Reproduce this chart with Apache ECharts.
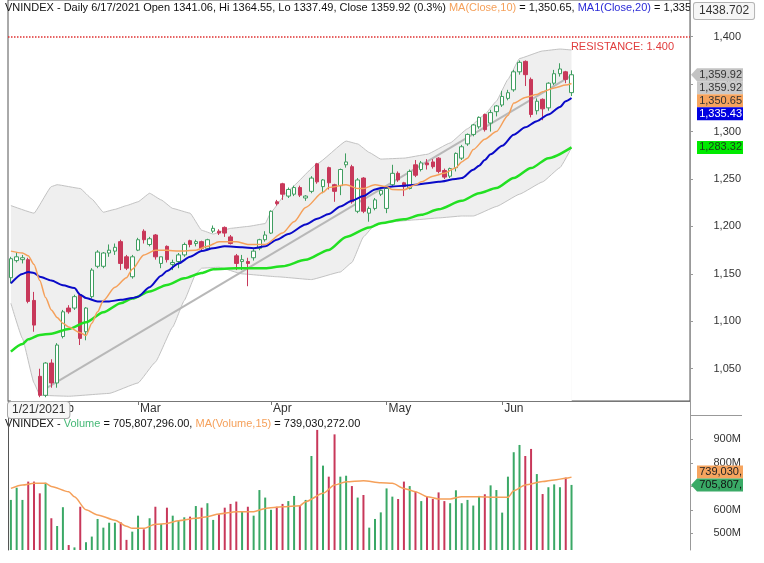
<!DOCTYPE html>
<html><head><meta charset="utf-8">
<script src="https://cdn.jsdelivr.net/npm/echarts@6/dist/echarts.min.js"></script>
<style>html,body{margin:0;padding:0;background:#fff}#c{width:764px;height:563px}</style>
</head><body><div id="c"></div>
<script>
// ---------- DATA ----------
const dates = [
 '1/21/2021','1/22/2021','1/25/2021','1/26/2021','1/27/2021','1/28/2021','1/29/2021',
 '2/1/2021','2/2/2021','2/3/2021','2/4/2021','2/5/2021','2/8/2021','2/9/2021','2/17/2021','2/18/2021','2/19/2021','2/22/2021','2/23/2021','2/24/2021','2/25/2021','2/26/2021',
 '3/1/2021','3/2/2021','3/3/2021','3/4/2021','3/5/2021','3/8/2021','3/9/2021','3/10/2021','3/11/2021','3/12/2021','3/15/2021','3/16/2021','3/17/2021','3/18/2021','3/19/2021','3/22/2021','3/23/2021','3/24/2021','3/25/2021','3/26/2021','3/29/2021','3/30/2021','3/31/2021',
 '4/1/2021','4/2/2021','4/5/2021','4/6/2021','4/7/2021','4/8/2021','4/9/2021','4/12/2021','4/13/2021','4/14/2021','4/15/2021','4/16/2021','4/19/2021','4/20/2021','4/22/2021','4/23/2021','4/26/2021','4/27/2021','4/28/2021','4/29/2021',
 '5/4/2021','5/5/2021','5/6/2021','5/7/2021','5/10/2021','5/11/2021','5/12/2021','5/13/2021','5/14/2021','5/17/2021','5/18/2021','5/19/2021','5/20/2021','5/21/2021','5/24/2021','5/25/2021','5/26/2021','5/27/2021','5/28/2021','5/31/2021',
 '6/1/2021','6/2/2021','6/3/2021','6/4/2021','6/7/2021','6/8/2021','6/9/2021','6/10/2021','6/11/2021','6/14/2021','6/15/2021','6/16/2021','6/17/2021'
];
const opens = [1146,1164,1165,1165,1122,1042,1022,1056,1035,1084,1114,1114,1128,1089,1126,1158,1158,1172,1174,1184,1168,1147,
 1175,1195,1181,1191,1161,1179,1160,1163,1170,1185,1182,1184,1177,1195,1195,1199,1189,1169,1163,1163,1167,1177,1186,
 1193,1226,1245,1232,1234,1241,1230,1237,1266,1242,1262,1244,1243,1265,1263,1216,1251,1214,1219,1234,
 1219,1244,1256,1246,1240,1265,1260,1267,1268,1272,1259,1253,1262,1272,1287,1297,1305,1318,1309,1321,
 1328,1335,1344,1363,1374,1355,1322,1334,1325,1351,1361,1363,1341.06];
const highs = [1168,1173,1170,1167,1131,1050,1057,1060,1077,1112,1117,1128,1130,1115,1156,1175,1173,1181,1182,1186,1170,1170,
 1188,1197,1189,1192,1168,1180,1165,1172,1183,1186,1186,1185,1187,1201,1197,1200,1191,1171,1170,1167,1176,1187,1195,
 1217,1228,1246,1241,1243,1243,1233,1253,1267,1250,1263,1245,1261,1277,1265,1251,1252,1221,1230,1239,
 1242,1265,1258,1247,1260,1270,1269,1271,1271,1273,1261,1262,1278,1286,1298,1308,1316,1319,1323,1328,
 1343,1344,1365,1375,1375,1357,1335,1335,1352,1365,1372,1364,1364.55];
const lows = [1140,1162,1161,1119,1089,1020,1020,1030,1030,1082,1108,1112,1075,1080,1124,1156,1156,1168,1170,1154,1154,1145,
 1174,1182,1179,1165,1156,1162,1154,1156,1168,1178,1179,1175,1175,1193,1191,1189,1181,1154,1154,1137,1164,1175,1184,
 1192,1222,1228,1230,1232,1231,1227,1235,1245,1235,1239,1226,1233,1262,1224,1214,1214,1205,1217,1232,
 1214,1242,1247,1232,1239,1252,1258,1260,1261,1256,1250,1251,1258,1270,1285,1295,1303,1300,1300,1316,
 1326,1333,1342,1360,1348,1315,1318,1312,1322,1349,1358,1351,1337.49];
const closes = [1166,1168,1167,1121,1096,1022,1056,1035,1075,1110,1110,1126,1082,1114,1154,1173,1172,1175,1178,1161,1156,1168,
 1186,1186,1187,1168,1168,1165,1162,1170,1181,1181,1184,1177,1186,1198,1193,1193,1182,1161,1165,1161,1174,1186,1191,
 1216,1224,1234,1239,1241,1233,1232,1251,1247,1249,1246,1237,1260,1268,1226,1249,1216,1219,1228,1238,
 1240,1256,1249,1242,1258,1254,1267,1265,1263,1258,1252,1261,1277,1284,1297,1307,1315,1302,1320,1327,
 1337,1341,1363,1373,1360,1318,1332,1324,1351,1361,1366,1355,1359.92];
// volume, millions of shares
const volumes = [642,694,642,720,720,670,715,564,531,611,450,440,613,462,486,561,524,545,545,547,472,507,
 575,517,564,613,540,609,575,552,568,571,616,609,628,557,581,609,625,635,595,613,575,684,652,
 600,613,625,637,659,616,642,829,940,788,741,921,741,745,701,652,663,524,561,589,
 691,656,646,720,701,677,637,656,646,674,637,628,683,628,642,618,659,666,704,684,
 588,741,845,876,829,859,752,667,696,708,696,737,705.807296];
// overlays: [candle index, value]
const ma10 = [[0,1174],[2,1172],[3,1169],[4,1160],[5,1143],[6,1125],[7,1112],[8,1104],[9,1098],[10,1094],[12,1088],[13,1085],
 [14,1098],[15,1110],[16,1122],[18,1136],[20,1146],[21,1155],[23,1170],[25,1175],[27,1175],[29,1174],[32,1175],[34,1179],
 [36,1184],[39,1184],[41,1181],[44,1181],[47,1193],[49,1205],[51,1220],[54,1236],[55,1241],[58,1244],[60,1240],[61,1240],
 [63,1244],[65,1242],[66,1239],[68,1238.6],[70,1244],[71,1247],[73,1253],[75,1256],[77,1262],[78,1268],[79,1272],[80,1281],
 [82,1292],[84,1300],[86,1317],[87,1330],[89,1336],[91,1339],[92,1342],[94,1346],[96,1349],[97,1350.65]];
const ma20 = [[0,1140],[2,1150],[3,1152],[4,1151],[5,1147],[7,1143],[9,1138],[11,1135],[12,1128],[13,1124.5],[15,1121],[17,1121],
 [19,1122.6],[21,1124.5],[22,1126],[24,1136],[26,1148],[27,1153],[29,1161],[31,1168],[33,1174],[35,1177],[37,1179],[40,1178],
 [42,1177],[44,1179],[46,1186],[48,1192],[51,1202],[53,1208],[55,1213],[57,1221],[59,1227],[61,1232],[63,1239],[64,1240.5],
 [66,1242],[68,1243],[70,1244],[72,1245.6],[74,1247],[77,1250],[78,1251],[80,1259.7],[81,1264],[82,1270],[83,1276],[85,1285],
 [87,1296.7],[89,1304.5],[91,1311],[93,1318],[95,1326],[96,1332],[97,1335.43]];
const maLong = [[0,1068],[2,1076],[3,1081],[5,1085.7],[7,1087],[10,1092],[13,1099],[16,1109.5],[19,1119],[21,1124],[24,1131.4],
 [27,1138.4],[30,1145.4],[33,1151],[35,1155],[39,1156],[44,1156],[47,1158],[51,1164.8],[55,1175.3],[58,1189],[62,1199],
 [64,1203.5],[68,1207.5],[71,1212.3],[74,1218],[78,1227],[81,1235],[84,1240.4],[87,1251],[90,1261.5],[93,1272],[97,1283.32]];
const bbUpper = [[0,1222],[4,1214],[7,1242],[8,1244],[12,1240],[14,1229],[16,1215],[18,1218],[20,1222],[22,1226],[24,1235],
 [26,1228],[28,1219],[31,1214],[33,1196],[35,1192],[38,1198],[41,1200],[44,1203],[45,1215],[48,1238],[53,1266],[58,1290],
 [60,1287],[62,1278],[64,1271],[68,1272],[72,1276],[76,1288],[79,1303],[82,1318],[84,1332],[86,1355],[88,1377],[92,1385],
 [95,1387],[97,1386]];
const bbLower = [[0,1119],[2,1082],[4,1035],[5,1022],[10,1021],[17,1024],[22,1035],[25,1057],[28,1094],[30,1122],[32,1150],
 [33,1156],[36,1157],[40,1150],[46,1147],[52,1144],[57,1152],[59,1162],[61,1189],[63,1202],[66,1205],[70,1207],[74,1209],
 [78,1211],[80,1211],[84,1221],[88,1234],[92,1247],[95,1262],[97,1283]];
const volMa15 = [[0,691],[2,705.5],[4,712.6],[6,712.6],[7,699],[10,677],[11,655],[13,600],[15,578],[18,556],[20,530],[21,521],
 [23,521],[25,538],[27,542],[29,553.7],[32,563.6],[34,570.8],[36,582],[39,592],[42,592],[44,606],[47,613],[50,617.6],
 [51,634.6],[54,670],[56,705.5],[58,719.7],[61,724],[64,715.4],[66,712.6],[68,691],[70,677],[72,656],[74,646],[76,646],
 [78,656],[81,656],[84,653],[86,653],[87,681],[89,705.5],[92,720],[94,727],[96,734],[97,739.030272]];
const trendLine = [[6,1029],[97,1359]];
const resistance = 1400;
const priceTicks = [1050,1100,1150,1200,1250,1300,1350,1400];
const volTicks = [500,600,700,800,900];
const priceMin = 1016, priceMax = 1438.702;
const volMin = 428.9, volMax = 1003.4;

// ---------- LAYOUT ----------
const GL = 8, GR = 690, PT = 0, PB = 401, VT = 415, VB = 550, W = 764, H = 563;
const FONT = '"Liberation Sans", Arial, sans-serif';
const MONTHS = ['Jan','Feb','Mar','Apr','May','Jun','Jul','Aug','Sep','Oct','Nov','Dec'];
const cats = dates.concat(Array.from({length:20},(_,k)=>'pad'+k));
const mon = d => d.split('/')[0];
const monthStart = cats.map((d,i)=> i>0 && i<dates.length && mon(d)!==mon(dates[i-1]));
const fmt = (v,d)=> v.toLocaleString('en-US',{minimumFractionDigits:d,maximumFractionDigits:d});

const upColor = '#3f9e60', downColor = '#c8385a';
const candles = opens.map((o,i)=>[o, closes[i], lows[i], highs[i]]);
const volData = volumes.map((v,i)=>({value:v, itemStyle:{color: closes[i]>=opens[i] ? '#3aa866' : downColor}}));

const chart = echarts.init(document.getElementById('c'));
const lineS = (name, data, color, width, extra) => Object.assign({
  type:'line', name, data, xAxisIndex:0, yAxisIndex:0, symbol:'none', smooth:0.25, smoothMonotone:'x',
  lineStyle:{color, width}, silent:true, z:4
}, extra||{});
const rs = (color) => ({fontSize:11, fontFamily:FONT, fontWeight:'normal', color});

chart.setOption({
  animation:false,
  backgroundColor:'#ffffff',
  title:[
    {left:5, top:2, padding:0, z:8,
     text:'{a|VNINDEX - Daily 6/17/2021 Open 1341.06, Hi 1364.55, Lo 1337.49, Close 1359.92 (0.3%) }{o|MA(Close,10)}{a| = 1,350.65, }{b|MA1(Close,20)}{a| = 1,335.43}',
     textStyle:{fontWeight:'normal', fontSize:11, rich:{a:rs('#111'), o:rs('#f5a05a'), b:rs('#2a2ad6')}}},
    {left:5, top:418, padding:0, z:8,
     text:'{a|VNINDEX - }{g|Volume}{a| = 705,807,296.00, }{o|MA(Volume,15)}{a| = 739,030,272.00}',
     textStyle:{fontWeight:'normal', fontSize:11, rich:{a:rs('#111'), g:rs('#45b876'), o:rs('#f5a05a')}}}
  ],
  grid:[
    {left:GL, right:W-GR, top:PT, bottom:H-PB, show:true, borderColor:'#555', borderWidth:1},
    {left:GL, right:W-GR, top:VT, bottom:H-VB}
  ],
  xAxis:[
    {type:'category', data:cats, gridIndex:0, boundaryGap:true, z:10,
     axisLine:{show:true, lineStyle:{color:'#777'}},
     axisTick:{show:true, alignWithLabel:true, interval:(i)=>monthStart[i], length:4, lineStyle:{color:'#777'}},
     axisLabel:{show:true, interval:(i)=>monthStart[i], formatter:(v)=>MONTHS[+mon(v)-1], align:'left', margin:2,
       padding:[0,0,0,2], color:'#333', fontSize:12, fontFamily:FONT},
     splitLine:{show:false}},
    {type:'category', data:cats, gridIndex:1, boundaryGap:true, show:false}
  ],
  yAxis:[
    {type:'value', gridIndex:0, position:'right', min:priceMin, max:priceMax, z:10,
     axisLine:{show:true, lineStyle:{color:'#999'}},
     axisTick:{show:true, customValues:priceTicks, length:3, lineStyle:{color:'#999'}},
     axisLabel:{customValues:priceTicks, formatter:v=>fmt(v,0), align:'right', margin:51, fontSize:11, color:'#333', fontFamily:FONT},
     splitLine:{show:false}},
    {type:'value', gridIndex:1, position:'right', min:volMin, max:volMax, z:10,
     axisLine:{show:true, lineStyle:{color:'#999'}},
     axisTick:{show:true, customValues:volTicks, length:3, lineStyle:{color:'#999'}},
     axisLabel:{customValues:volTicks, formatter:v=>v+'M', align:'right', margin:51, fontSize:11, color:'#333', fontFamily:FONT},
     splitLine:{show:false}},
    {type:'value', gridIndex:1, position:'left', min:volMin, max:volMax, z:10,
     axisLine:{show:true, lineStyle:{color:'#555'}}, axisTick:{show:false}, axisLabel:{show:false}, splitLine:{show:false}}
  ],
  series:[
    lineS('bbUpper', bbUpper, '#c2c2c2', 1, {smooth:0.1, areaStyle:{color:'#efefef', opacity:1, origin:'start'}, z:1}),
    lineS('bbLower', bbLower, '#c2c2c2', 1, {smooth:0.1, areaStyle:{color:'#ffffff', opacity:1, origin:'start'}, z:1}),
    lineS('trend', trendLine, '#b8b8b8', 2, {smooth:false, z:2}),
    {type:'candlestick', name:'VNINDEX', data:candles, xAxisIndex:0, yAxisIndex:0, barWidth:4, z:3, silent:true,
     itemStyle:{color:'#ffffff', color0:downColor, borderColor:upColor, borderColor0:downColor, borderWidth:1},
     markLine:{silent:true, symbol:['none','none'], data:[{yAxis:resistance}],
       lineStyle:{color:'#e03030', type:'dotted', width:1.5},
       label:{show:true, position:'insideEndBottom', formatter:'RESISTANCE: 1.400', color:'#e03c3c', fontSize:11, fontFamily:FONT, padding:[0,11,0,0]}}},
    lineS('maLong', maLong, '#22e022', 2.5),
    lineS('ma20', ma20, '#0a0ac8', 2),
    lineS('ma10', ma10, '#f5a05a', 1.5),
    {type:'bar', name:'Volume', data:volData, xAxisIndex:1, yAxisIndex:1, barWidth:2, silent:true, z:2},
    {type:'line', name:'volMa', data:volMa15, xAxisIndex:1, yAxisIndex:1, symbol:'none', smooth:0.25, smoothMonotone:'x',
     lineStyle:{color:'#f5a05a', width:1.5}, silent:true, z:4}
  ]
});

// ---------- right-axis value tags & decorations ----------
const TF = '11px ' + FONT;
function tag(yc, text, bg, fg, arrow){
  const els = [];
  if (arrow) els.push({type:'polygon', z:100, silent:true, shape:{points:[[GR+1,yc],[GR+7,yc-6.5],[GR+7,yc+6.5]]}, style:{fill:bg}});
  els.push({type:'rect', z:100, silent:true, shape:{x:GR+7, y:yc-6.5, width:46, height:13}, style:{fill:bg}});
  els.push({type:'text', z:101, silent:true, x:GR+52, y:yc, style:{text, fill:fg, font:TF, align:'right', verticalAlign:'middle'}});
  return els;
}
const py = v => chart.convertToPixel({yAxisIndex:0}, v);
const vy = v => chart.convertToPixel({yAxisIndex:1}, v);
const last = dates.length-1;
let y1 = py(closes[last]);
let y2 = Math.max(py(closes[last]), y1+13);
let y3 = Math.max(py(ma10[ma10.length-1][1]), y2+13);
let y4 = Math.max(py(ma20[ma20.length-1][1]), y3+13);
let y5 = Math.max(py(maLong[maLong.length-1][1]), y4+13);
const vLast = volumes[last], vmaLast = volMa15[volMa15.length-1][1];
let yv1 = vy(vLast);
let yv2 = Math.min(vy(vmaLast), yv1-13);
const volTxt = v => fmt(Math.round(v*1e6),0).slice(0,8);

let g = [];
// mask for header text running past the plot
g.push({type:'rect', z:99, silent:true, shape:{x:GR+1, y:0, width:W-GR, height:22}, style:{fill:'#ffffff'}});
g.push({type:'line', z:50, silent:true, shape:{x1:GR+0.5,y1:PB,x2:GR+0.5,y2:VT}, style:{stroke:'#999',lineWidth:1}});
g.push({type:'line', z:50, silent:true, shape:{x1:GR,y1:VT+0.5,x2:GR+52,y2:VT+0.5}, style:{stroke:'#999',lineWidth:1}});
g = g.concat(tag(y1, fmt(closes[last],2), '#c3c3c3', '#333', true));
g = g.concat(tag(y2, fmt(closes[last],2), '#c9c9c9', '#333', false));
g = g.concat(tag(y3, fmt(ma10[ma10.length-1][1],2), '#f6a45e', '#333', false));
g = g.concat(tag(y4, fmt(ma20[ma20.length-1][1],2), '#0000e0', '#ffffff', false));
g = g.concat(tag(y5, fmt(maLong[maLong.length-1][1],2), '#00ea00', '#1a3a1a', false));
g = g.concat(tag(yv2, volTxt(vmaLast), '#f6a45e', '#222', false));
g = g.concat(tag(yv1, volTxt(vLast), '#3aaa66', '#111', true));
// axis max box
g.push({type:'text', z:102, silent:true, x:GR+4, y:3,
  style:{text:String(priceMax), font:'12px '+FONT, fill:'#333', backgroundColor:'#f6f6f6', borderColor:'#b4b4b4', borderWidth:1, borderRadius:2, padding:[2,5,2,5]}});
// date box at first bar
g.push({type:'text', z:102, silent:true, x:GL, y:PB+1,
  style:{text:dates[0], font:'12px '+FONT, fill:'#333', backgroundColor:'#f7f7f7', borderColor:'#a8a8a8', borderWidth:1, borderRadius:3, padding:[2,4,2,4]}});
chart.setOption({graphic:g});
</script></body></html>
